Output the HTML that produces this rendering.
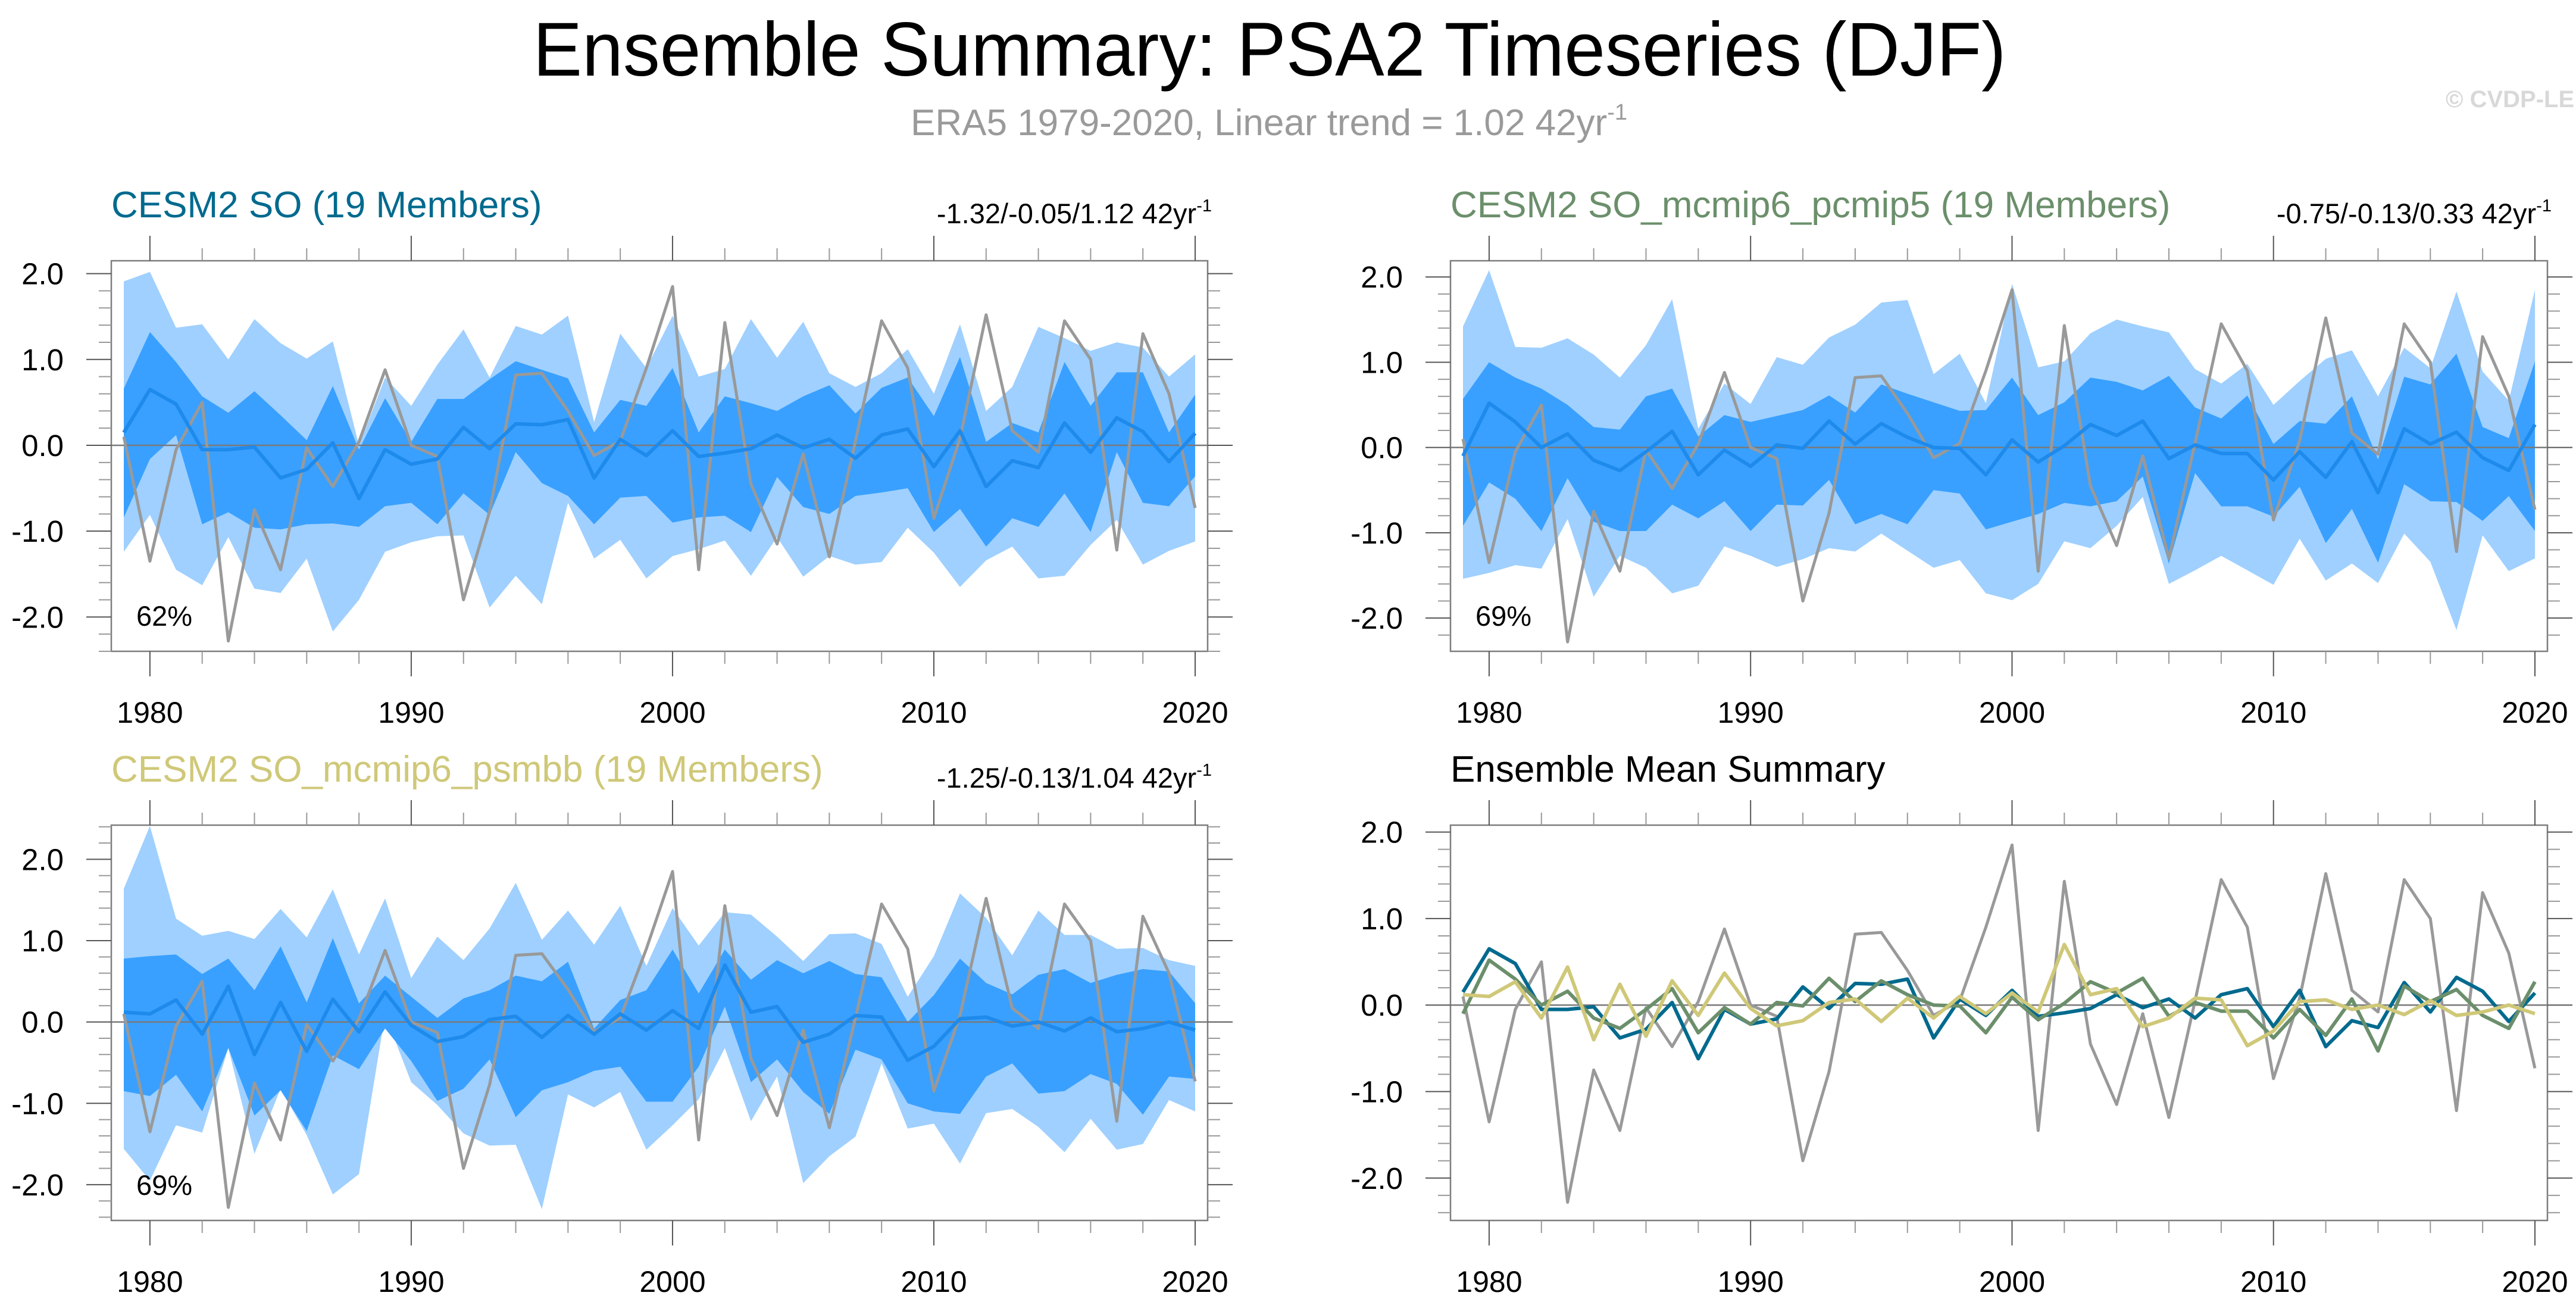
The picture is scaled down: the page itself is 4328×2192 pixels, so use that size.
<!DOCTYPE html>
<html><head><meta charset="utf-8"><title>Ensemble Summary: PSA2 Timeseries (DJF)</title>
<style>
html,body{margin:0;padding:0;background:#fff;}
svg{display:block;font-family:"Liberation Sans",Arial,sans-serif;}
</style></head>
<body>
<svg id="chart" xmlns="http://www.w3.org/2000/svg" width="4328" height="2192" viewBox="0 0 4328 2192">
<rect width="4328" height="2192" fill="#fff"/>
<text x="2133" y="127" font-size="128" text-anchor="middle" textLength="2475" lengthAdjust="spacingAndGlyphs" fill="#000">Ensemble Summary: PSA2 Timeseries (DJF)</text>
<text x="1530" y="227" font-size="62" fill="#9a9a9a">ERA5 1979-2020, Linear trend = 1.02 42yr<tspan dy="-26" font-size="38">-1</tspan></text>
<text x="4109" y="180" font-size="40" fill="#d8d8d8" font-weight="bold">© CVDP-LE</text>
<g id="panels"></g>
</svg>
<script>
// ---- data ----
const years = [];
for (let y = 1979; y <= 2020; y++) years.push(y);

const era5 = [0.1,-1.35,-0.05,0.5,-2.28,-0.75,-1.45,-0.03,-0.48,0.04,0.88,0.0,-0.13,-1.8,-0.77,0.82,0.84,0.4,-0.12,0.05,0.9,1.85,-1.45,1.43,-0.45,-1.15,-0.1,-1.3,0.05,1.45,0.9,-0.85,0.08,1.52,0.17,-0.08,1.45,1.0,-1.22,1.3,0.6,-0.73];

const meanSO = [0.15,0.65,0.48,-0.05,-0.05,-0.02,-0.38,-0.28,0.03,-0.62,-0.05,-0.22,-0.16,0.21,-0.04,0.25,0.24,0.3,-0.38,0.07,-0.12,0.17,-0.13,-0.09,-0.04,0.12,-0.03,0.07,-0.15,0.12,0.19,-0.25,0.17,-0.48,-0.18,-0.26,0.26,-0.08,0.32,0.16,-0.19,0.14];
const meanPC = [-0.1,0.52,0.3,0.0,0.16,-0.15,-0.27,-0.05,0.19,-0.32,-0.03,-0.22,0.03,-0.01,0.31,0.04,0.28,0.12,0.0,-0.01,-0.32,0.09,-0.17,0.02,0.27,0.14,0.31,-0.13,0.03,-0.07,-0.07,-0.38,-0.05,-0.35,0.07,-0.53,0.22,0.04,0.18,-0.12,-0.27,0.27];
const meanPS = [0.12,0.1,0.27,-0.15,0.44,-0.4,0.24,-0.36,0.28,-0.12,0.37,-0.04,-0.24,-0.18,0.03,0.07,-0.19,0.08,-0.15,0.1,-0.1,0.14,-0.08,0.7,0.12,0.19,-0.25,-0.15,0.08,0.06,-0.47,-0.3,0.04,0.06,-0.05,0.0,-0.11,0.05,-0.12,-0.08,0.0,-0.1];

const soLightHi = [1.91,2.02,1.37,1.41,1.0,1.47,1.19,1.01,1.21,0.0,0.79,0.46,0.94,1.35,0.79,1.39,1.29,1.51,0.27,1.3,0.9,1.51,0.8,0.89,1.47,1.02,1.44,0.84,0.68,0.84,1.12,0.6,1.41,0.4,0.68,1.38,1.25,1.1,1.2,1.14,0.8,1.06];
const soLightLo = [-1.24,-0.81,-1.45,-1.63,-1.07,-1.67,-1.72,-1.32,-2.17,-1.8,-1.24,-1.13,-1.06,-1.05,-1.89,-1.52,-1.85,-0.67,-1.32,-1.1,-1.55,-1.29,-1.21,-1.11,-1.52,-1.07,-1.53,-1.29,-1.39,-1.36,-0.96,-1.25,-1.65,-1.34,-1.18,-1.55,-1.52,-1.16,-0.87,-1.39,-1.23,-1.12];
const soDarkHi = [0.66,1.32,0.97,0.57,0.38,0.63,0.35,0.06,0.69,-0.05,0.55,0.04,0.54,0.54,0.77,0.98,0.88,0.78,0.15,0.53,0.46,0.9,0.15,0.57,0.49,0.4,0.57,0.7,0.37,0.67,0.79,0.34,1.03,0.04,0.26,0.15,0.97,0.46,0.85,0.85,0.15,0.59];
const soDarkLo = [-0.84,-0.16,0.12,-0.92,-0.78,-0.96,-0.98,-0.92,-0.91,-0.95,-0.71,-0.67,-0.92,-0.56,-0.81,-0.08,-0.44,-0.59,-0.92,-0.61,-0.59,-0.9,-0.84,-0.82,-1.01,-0.37,-0.72,-0.8,-0.59,-0.55,-0.5,-1.01,-0.74,-1.18,-0.85,-0.95,-0.56,-1.01,-0.08,-0.67,-0.71,-0.36];

const pcLightHi = [1.42,2.08,1.18,1.17,1.28,1.09,0.82,1.2,1.74,0.22,0.75,0.51,1.06,0.97,1.29,1.44,1.7,1.73,0.86,1.1,0.52,1.92,0.94,1.01,1.34,1.5,1.42,1.35,0.92,0.75,0.98,0.5,0.78,1.04,1.14,0.6,1.17,0.93,1.83,0.89,0.55,1.85];
const pcLightLo = [-1.54,-1.47,-1.38,-1.42,-0.84,-1.75,-1.27,-1.41,-1.71,-1.62,-1.16,-1.27,-1.4,-1.31,-1.18,-1.22,-1.01,-1.21,-1.41,-1.32,-1.71,-1.79,-1.6,-1.1,-1.18,-0.92,-0.58,-1.6,-1.44,-1.27,-1.44,-1.61,-1.07,-1.56,-1.36,-1.59,-1.01,-1.34,-2.14,-1.03,-1.45,-1.3];
const pcDarkHi = [0.57,1.0,0.82,0.69,0.5,0.24,0.21,0.6,0.69,0.13,0.38,0.3,0.37,0.44,0.61,0.41,0.74,0.63,0.53,0.43,0.44,0.82,0.38,0.53,0.82,0.77,0.67,0.84,0.47,0.34,0.61,0.04,0.31,0.28,0.6,-0.14,0.83,0.74,1.1,0.24,0.11,1.01];
const pcDarkLo = [-0.92,-0.41,-0.6,-0.98,-0.36,-0.87,-0.98,-0.98,-0.67,-0.83,-0.63,-0.98,-0.67,-0.68,-0.38,-0.9,-0.78,-0.9,-0.5,-0.54,-0.96,-0.87,-0.78,-0.65,-0.69,-0.63,-0.34,-1.36,-0.3,-0.69,-0.69,-0.81,-0.46,-1.12,-0.72,-1.35,-0.43,-0.63,-0.64,-0.86,-0.57,-0.98];

const psLightHi = [1.64,2.41,1.27,1.06,1.12,1.02,1.39,1.04,1.63,0.83,1.52,0.54,1.05,0.76,1.15,1.71,1.01,1.37,0.95,1.43,0.69,1.4,0.94,1.35,1.32,1.05,0.75,1.08,1.09,0.96,0.31,0.81,1.58,1.28,0.82,1.37,1.07,1.07,0.9,0.91,0.76,0.69];
const psLightLo = [-1.56,-1.95,-1.27,-1.36,-0.32,-1.62,-0.82,-1.39,-2.12,-1.87,0.09,-0.74,-1.02,-1.37,-1.52,-1.51,-2.3,-0.89,-1.05,-0.86,-1.57,-1.27,-0.95,-0.32,-1.22,-0.67,-1.98,-1.65,-1.41,-0.51,-1.31,-1.25,-1.74,-1.12,-1.07,-1.29,-1.6,-1.19,-1.57,-1.5,-0.96,-1.1];
const psDarkHi = [0.78,0.81,0.83,0.59,0.78,0.39,0.93,0.24,1.03,0.23,0.57,0.31,0.05,0.29,0.39,0.57,0.5,0.74,-0.08,0.27,0.39,0.89,0.35,0.89,0.52,0.76,0.6,0.75,0.59,0.55,0.0,0.33,0.78,0.48,0.34,0.58,0.65,0.48,0.58,0.65,0.62,0.23];
const psDarkLo = [-0.85,-0.91,-0.65,-1.1,-0.32,-1.15,-0.84,-1.34,-0.41,-0.58,-0.08,-0.48,-0.97,-0.82,-0.46,-1.17,-0.84,-0.74,-0.6,-0.55,-0.98,-0.98,-0.55,0.19,-0.74,-0.46,-0.86,-1.13,-0.34,-0.46,-1.0,-1.1,-1.13,-0.67,-0.51,-0.88,-0.85,-0.64,-0.76,-1.14,-0.67,-0.7];

const xTickYears = [1980,1990,2000,2010,2020];
const yTickVals = [2.0,1.0,0.0,-1.0,-2.0];
const yTickLabels = ["2.0","1.0","0.0","-1.0","-2.0"];

// ---- drawing ----
const NS = "http://www.w3.org/2000/svg";
const root = document.getElementById("panels");
function mk(tag, attrs, parent){
  const e = document.createElementNS(NS, tag);
  for (const k in attrs) e.setAttribute(k, attrs[k]);
  (parent||root).appendChild(e);
  return e;
}

const panels = [
  {id:"so", L:187, R:2029, T:438, B:1094, ymin:-2.4, ymax:2.15, title:"CESM2 SO (19 Members)", tcolor:"#006a8e", stats:"-1.32/-0.05/1.12 42yr", pct:"62%", lh:soLightHi, ll:soLightLo, dh:soDarkHi, dl:soDarkLo, mean:meanSO},
  {id:"pcmip5", L:2437, R:4280, T:438, B:1094, ymin:-2.39, ymax:2.19, title:"CESM2 SO_mcmip6_pcmip5 (19 Members)", tcolor:"#6b8f6b", stats:"-0.75/-0.13/0.33 42yr", pct:"69%", lh:pcLightHi, ll:pcLightLo, dh:pcDarkHi, dl:pcDarkLo, mean:meanPC},
  {id:"psmbb", L:187, R:2029, T:1386, B:2050, ymin:-2.44, ymax:2.42, title:"CESM2 SO_mcmip6_psmbb (19 Members)", tcolor:"#cfc878", stats:"-1.25/-0.13/1.04 42yr", pct:"69%", lh:psLightHi, ll:psLightLo, dh:psDarkHi, dl:psDarkLo, mean:meanPS},
  {id:"summary", L:2437, R:4280, T:1386, B:2050, ymin:-2.49, ymax:2.08, title:"Ensemble Mean Summary", tcolor:"#000", stats:null, summary:true}
];

panels.forEach(p => {
  const g = mk("g", {});
  
  
  const xs = yr => p.L + 21 + (yr - 1979) * ((p.R - p.L - 42) / 41);
  const ys = v => p.T + (p.ymax - v) / (p.ymax - p.ymin) * (p.B - p.T);

  const band = (hi, lo, color, name) => {
    let d = "M" + years.map((y,i)=> xs(y).toFixed(1)+","+ys(hi[i]).toFixed(1)).join("L");
    for (let i = years.length-1; i >= 0; i--) d += "L" + xs(years[i]).toFixed(1)+","+ys(lo[i]).toFixed(1);
    const e = mk("path", {d: d+"Z", fill: color, stroke:"none"}, g);
    
    
  };
  const line = (vals, color, w, name) => {
    const d = "M" + years.map((y,i)=> xs(y).toFixed(1)+","+ys(vals[i]).toFixed(1)).join("L");
    const e = mk("path", {d, fill:"none", stroke:color, "stroke-width":w, "stroke-linejoin":"round"}, g);
    
    
  };

  if (!p.summary) {
    band(p.lh, p.ll, "#9fd0ff", "band-min-max");
    band(p.dh, p.dl, "#39a0ff", "band-percentile");
  }
  const z = mk("line", {x1:p.L, x2:p.R, y1:ys(0), y2:ys(0), stroke:"#7a7a7a", "stroke-width":2.5}, g);
  
  

  if (!p.summary) {
    line(era5, "#999999", 5, "era5-line");
    line(p.mean, "#1e8aeb", 6, "ensemble-mean-line");
  } else {
    line(era5, "#999999", 5, "era5-line");
    line(meanSO, "#006a8e", 6, "cesm2-so-mean-line");
    line(meanPC, "#6b8f6b", 6, "pcmip5-mean-line");
    line(meanPS, "#cfc878", 6, "psmbb-mean-line");
  }

  const fr = mk("rect", {x:p.L, y:p.T, width:p.R-p.L, height:p.B-p.T, fill:"none", stroke:"#7d7d7d", "stroke-width":2.5}, g);
  
  

  for (let yr = 1980; yr <= 2020; yr += 2) {
    const major = yr % 10 === 0;
    const len = major ? 42 : 21;
    const x = xs(yr);
    mk("line", {x1:x, x2:x, y1:p.T, y2:p.T-len, stroke:major?"#555":"#999", "stroke-width":2}, g);
    mk("line", {x1:x, x2:x, y1:p.B, y2:p.B+len, stroke:major?"#555":"#999", "stroke-width":2}, g);
  }
  xTickYears.forEach(yr => {
    const t = mk("text", {x:xs(yr), y:p.B+120, "font-size":50, "text-anchor":"middle", fill:"#000"}, g);
    t.textContent = yr;
    
    
  });
  for (let k = -30; k <= 30; k++) {
    const v = k * 0.2;
    if (v < p.ymin - 1e-9 || v > p.ymax + 1e-9) continue;
    const major = k % 5 === 0;
    const len = major ? 42 : 21;
    const y = ys(v);
    mk("line", {x1:p.L, x2:p.L-len, y1:y, y2:y, stroke:major?"#555":"#999", "stroke-width":2}, g);
    mk("line", {x1:p.R, x2:p.R+len, y1:y, y2:y, stroke:major?"#555":"#999", "stroke-width":2}, g);
  }
  yTickVals.forEach((v,i) => {
    const t = mk("text", {x:p.L-80, y:ys(v)+18, "font-size":51, "text-anchor":"end", fill:"#000"}, g);
    t.textContent = yTickLabels[i];
    
    
  });

  const tt = mk("text", {x:p.L, y:p.T-73, "font-size":62, fill:p.tcolor}, g);
  tt.textContent = p.title;
  
  
  if (p.stats) {
    const st = mk("text", {x:p.R+7, y:p.T-63, "font-size":47, "text-anchor":"end", fill:"#000"}, g);
    st.textContent = p.stats;
    const sup = mk("tspan", {dy:-20, "font-size":29}, st);
    sup.textContent = "-1";
    
    
    const pc = mk("text", {x:p.L+42, y:p.B-43, "font-size":47, fill:"#000"}, g);
    pc.textContent = p.pct;
    
    
  }
});
</script>
</body></html>
